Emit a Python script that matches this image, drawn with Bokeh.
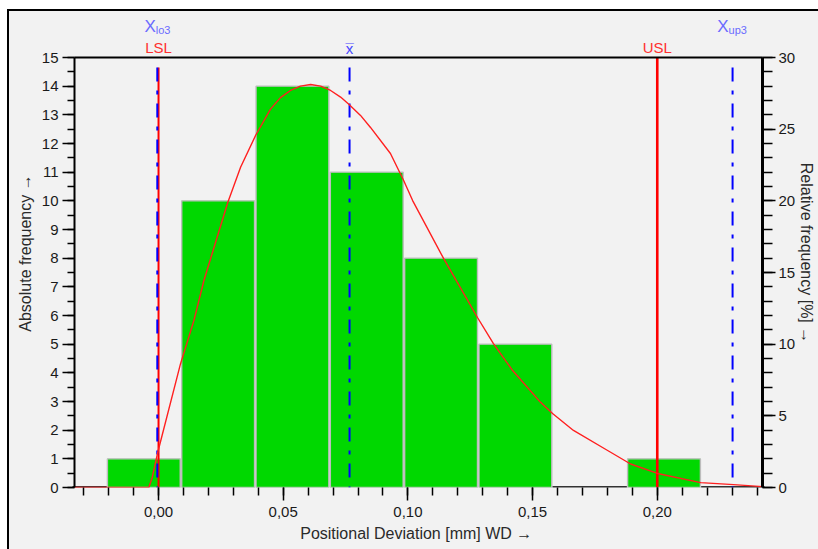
from bokeh.plotting import figure
from bokeh.models import Range1d, LinearAxis, FixedTicker
from bokeh.core.properties import value
from bokeh.embed import file_html
from bokeh.resources import INLINE

# ---------------- data ----------------
bin_left = [-0.0506, -0.0208, 0.0090, 0.0388, 0.0686, 0.0984, 0.1282, 0.1580, 0.1878, 0.2176]
bin_width = 0.0298
counts = [0, 1, 10, 14, 11, 8, 5, 0, 1, 0]
n_total = 50

curve_x = [-0.0337, -0.0039, -0.0025, -0.0003, 0.0088, 0.0142, 0.0182, 0.0235, 0.0278, 0.0329,
           0.0389, 0.0449, 0.0489, 0.0529, 0.0569, 0.0610, 0.0650, 0.0690, 0.0730, 0.0762,
           0.0810, 0.0850, 0.0930, 0.0983, 0.1019, 0.1143, 0.1279, 0.1343, 0.1420, 0.1532,
           0.1580, 0.1664, 0.1801, 0.1893, 0.2001, 0.2174, 0.2306, 0.2422]
curve_y = [0, 0, 0.36, 1.23, 4.31, 5.83, 7.22, 8.73, 9.95, 11.17,
           12.28, 13.2, 13.6, 13.85, 14.0, 14.06, 14.0, 13.85, 13.62, 13.38,
           12.98, 12.56, 11.65, 10.71, 10.01, 7.99, 5.93, 5.02, 4.08, 2.97,
           2.58, 1.99, 1.29, 0.82, 0.49, 0.17, 0.10, 0.03]

lsl = 0.00
usl = 0.20
x_lo3 = -0.0005
x_mean = 0.0766
x_up3 = 0.2302

x_min, x_max = -0.0337, 0.2422      # axis extent
x_tick_values = [0.00, 0.05, 0.10, 0.15, 0.20]
x_tick_labels = ["0,00", "0,05", "0,10", "0,15", "0,20"]
y_max = 15
# --------------------------------------

FONT = "Liberation Sans"
BG = "#f2f2f2"
px_per_unit = 430.0 / y_max          # vertical pixels per count
px_per_x = 2493.5                    # horizontal pixels per mm

# frame is a little larger than the axes box so that the texts above fit inside it
frame_top_extra = 39                 # px above the y_max line
pad_x = 2                            # px left/right of the axis lines
p = figure(width=818, height=549,
           x_range=Range1d(x_min - pad_x / px_per_x, x_max + pad_x / px_per_x),
           y_range=Range1d(0, y_max + frame_top_extra / px_per_unit),
           output_backend="svg", toolbar_location=None,
           min_border_left=72, min_border_right=54, min_border_top=18, min_border_bottom=62,
           background_fill_color=BG, border_fill_color=None, outline_line_color=None)
p.styles = {"background-color": BG,
            "box-shadow": "inset 7px 9px 0 0 #ffffff, inset 9px 11px 0 0 #000000"}
p.grid.visible = False

# bars
pos_left = [l for l, c in zip(bin_left, counts) if c > 0]
pos_counts = [c for c in counts if c > 0]
gap = 0.0003
p.quad(left=[l + gap for l in pos_left], right=[l + bin_width - gap for l in pos_left],
       bottom=0, top=pos_counts, fill_color="#00d800", line_color="#bdbdbd", line_width=1.4)

zero_left = [l for l, c in zip(bin_left, counts) if c == 0]
p.segment(x0=zero_left, x1=[l + bin_width for l in zero_left], y0=0, y1=0,
          line_color="#333333", line_width=3)

# vertical lines
top_off = y_max - 10 / px_per_unit
p.segment(x0=[lsl], x1=[lsl], y0=[top_off], y1=[0], line_color="#ff0000", line_width=2)
p.segment(x0=[usl], x1=[usl], y0=[y_max], y1=[0], line_color="#ff0000", line_width=2.6)
p.segment(x0=[x_lo3, x_mean, x_up3], x1=[x_lo3, x_mean, x_up3], y0=top_off, y1=0,
          line_color="#0000ff", line_width=2, line_dash="14 9 4 9")

# distribution curve
p.line(curve_x, curve_y, line_color="#ff2020", line_width=1.4)

# axes box lines (left, right, top)
p.segment(x0=[x_min], x1=[x_min], y0=[0], y1=[y_max], line_color="black", line_width=2)
p.segment(x0=[x_max], x1=[x_max], y0=[0], y1=[y_max], line_color="black", line_width=3)
p.segment(x0=[x_min], x1=[x_max], y0=[y_max], y1=[y_max], line_color="black", line_width=2)

# axes
def style_axis(ax):
    ax.axis_line_color = None
    ax.major_tick_line_color = "black"
    ax.minor_tick_line_color = "black"
    ax.major_tick_line_width = 1.5
    ax.minor_tick_line_width = 1.5
    ax.major_tick_in = 0
    ax.minor_tick_in = 0
    ax.major_label_text_font = FONT
    ax.major_label_text_font_size = "15px"
    ax.major_label_text_color = "#1a1a1a"
    ax.axis_label_text_font = FONT
    ax.axis_label_text_font_size = "16px"
    ax.axis_label_text_font_style = "normal"
    ax.axis_label_text_color = "#2a2a2a"

xa = p.xaxis[0]
style_axis(xa)
xa.ticker = FixedTicker(ticks=x_tick_values,
                        minor_ticks=[round(-0.03 + 0.01 * i, 2) for i in range(28)])
xa.major_label_overrides = dict(zip(x_tick_values, x_tick_labels))
xa.major_tick_out = 13
xa.minor_tick_out = 8
xa.major_label_standoff = 6
xa.axis_label = "Positional Deviation [mm]  WD \u2192"
xa.axis_label_standoff = 5

ya = p.yaxis[0]
style_axis(ya)
ya.ticker = FixedTicker(ticks=list(range(0, y_max + 1)),
                        minor_ticks=[0.5 * i for i in range(2 * y_max + 1)])
ya.major_tick_out = 10
ya.major_tick_in = 2
ya.minor_tick_out = 5
ya.minor_tick_in = 2
ya.major_label_standoff = 4
ya.axis_label = "Absolute frequency \u2192"
ya.axis_label_standoff = 5

rel_max = y_max * 100 / n_total
p.extra_y_ranges = {"rel": Range1d(0, rel_max + frame_top_extra / (430.0 / rel_max))}
ra = LinearAxis(y_range_name="rel")
style_axis(ra)
ra.ticker = FixedTicker(ticks=list(range(0, int(rel_max) + 1, 5)),
                        minor_ticks=list(range(0, int(rel_max) + 1)))
ra.major_tick_out = 11
ra.major_tick_in = 2
ra.minor_tick_out = 8
ra.minor_tick_in = 2
ra.major_label_standoff = 3
ra.axis_label = "Relative frequency [%] \u2192"
ra.axis_label_standoff = 0
p.add_layout(ra, "right")

# texts above the axes box (baseline heights in px above the y_max line)
def y_above(px):
    return y_max + px / px_per_unit

def txt(xs, ys, texts, color, size, align, xoff=0):
    p.text(x=xs, y=ys, text=texts, text_color=color, text_font=value(FONT),
           text_font_size=size, text_align=align, text_baseline="alphabetic",
           x_offset=xoff)

blue_txt = "#6b6bff"
red_txt = "#ff3030"
txt([x_lo3], [y_above(31)], ["X"], blue_txt, "17px", "right", -1.5)
txt([x_lo3], [y_above(28)], ["lo3"], blue_txt, "11px", "left", -1.5)
txt([x_up3], [y_above(31)], ["X"], blue_txt, "17px", "right", -4)
txt([x_up3], [y_above(28)], ["up3"], blue_txt, "11px", "left", -4)
txt([lsl, usl], [y_above(10)] * 2, ["LSL", "USL"], red_txt, "15px", "center")
txt([x_mean], [y_above(9.5)], ["x"], "#4646ff", "15px", "center")
txt([x_mean], [y_above(9.5)], ["\u00af"], "#4646ff", "15px", "center")

open("out.html", "w").write(file_html(p, INLINE))
